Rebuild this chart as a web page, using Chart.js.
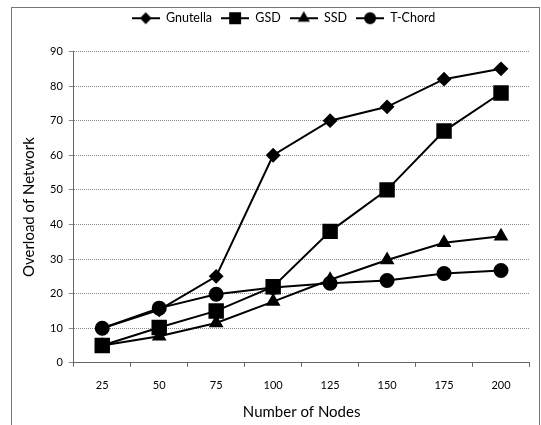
<!DOCTYPE html>
<html>
<head>
<meta charset="utf-8">
<script src="https://cdn.jsdelivr.net/npm/chart.js@4"></script>
<style>
html,body{margin:0;padding:0;background:#fff;}
#wrap{position:relative;width:541px;height:425px;}
#frame{position:absolute;left:11px;top:7px;width:527px;height:430px;border:1px solid #777;border-bottom:none;}
canvas{position:absolute;left:0;top:0;}
</style>
</head>
<body>
<div id="wrap">
<div id="frame"></div>
<canvas id="c" width="541" height="425"></canvas>
</div>
<script>
const categories = ["25","50","75","100","125","150","175","200"];
const gnutella = [10, 15.3, 25, 60, 70, 74, 82, 85];
const gsd = [5, 10.2, 15, 22, 38, 50, 67, 78];
const ssd = [5, 7.7, 11.5, 17.7, 24, 29.7, 34.7, 36.6];
const tchord = [10, 15.8, 19.8, 21.8, 23, 23.8, 25.8, 26.7];
const yTicks = [0,10,20,30,40,50,60,70,80,90];

const FONT = "Lato, 'Open Sans', sans-serif";
const styles = [
  {style:'rectRot', r:6, lr:4.5},
  {style:'rect', r:9.5, lr:7},
  {style:'triangle', r:6.5, lr:5},
  {style:'circle', r:6.5, lr:5}
];
function legendIcon(st){
  const cv = document.createElement('canvas');
  cv.width = 28; cv.height = 14;
  const ctx = cv.getContext('2d');
  ctx.strokeStyle = '#000'; ctx.fillStyle = '#000'; ctx.lineWidth = 2;
  ctx.beginPath(); ctx.moveTo(0,7); ctx.lineTo(28,7); ctx.stroke();
  Chart.helpers.drawPoint(ctx, {pointStyle:st.style, radius:st.lr, rotation:0, borderWidth:1}, 14, 7);
  return cv;
}
function ds(label, data, st){
  return {label, data, borderColor:'#000', backgroundColor:'#000', pointBackgroundColor:'#000',
    pointBorderColor:'#000', pointStyle:st.style, pointRadius:st.r, pointHoverRadius:st.r, borderWidth:2, tension:0};
}
const legendGap = {id:'legendGap', beforeLayout(chart){
  const l = chart.legend;
  if (l && !l._gapWrapped){
    const f = l.fit.bind(l);
    l.fit = function(){ f(); this.height += 17; };
    l._gapWrapped = true;
  }
}};
new Chart(document.getElementById('c'), {
  type:'line',
  data:{labels:categories, datasets:[
    ds('Gnutella', gnutella, styles[0]),
    ds('GSD', gsd, styles[1]),
    ds('SSD', ssd, styles[2]),
    ds('T-Chord', tchord, styles[3])
  ]},
  plugins:[legendGap],
  options:{
    responsive:false, animation:false,
    layout:{padding:{left:16,right:-10,top:3,bottom:4}},
    plugins:{
      legend:{position:'top',
        labels:{font:{family:FONT,size:12.5}, color:'#000', usePointStyle:true, pointStyleWidth:28, boxHeight:12, padding:9,
          generateLabels(chart){
            const items = Chart.defaults.plugins.legend.labels.generateLabels(chart);
            items.forEach((it,i)=>{ it.pointStyle = legendIcon(styles[i]); it.lineWidth = 0; });
            return items;
          }}},
      tooltip:{enabled:false}
    },
    scales:{
      x:{offset:true,
        grid:{offset:true, drawOnChartArea:false, drawTicks:true, tickLength:4, color:'#666'},
        border:{color:'#666', dash:[1,1]},
        ticks:{font:{family:FONT,size:11}, color:'#000', padding:12},
        title:{display:true, text:'Number of Nodes', font:{family:FONT,size:15}, color:'#000', padding:{top:-1,bottom:0}}
      },
      y:{min:0,max:90,
        afterBuildTicks(ax){ ax.ticks = yTicks.map(v=>({value:v})); },
        grid:{color:'#888', tickLength:5, drawTicks:true},
        border:{color:'#666', dash:[1,1]},
        ticks:{font:{family:FONT,size:11}, color:'#000', padding:6},
        title:{display:true, text:'Overload of Network', font:{family:FONT,size:15}, color:'#000', padding:{bottom:6}}
      }
    }
  }
});
</script>
</body>
</html>
